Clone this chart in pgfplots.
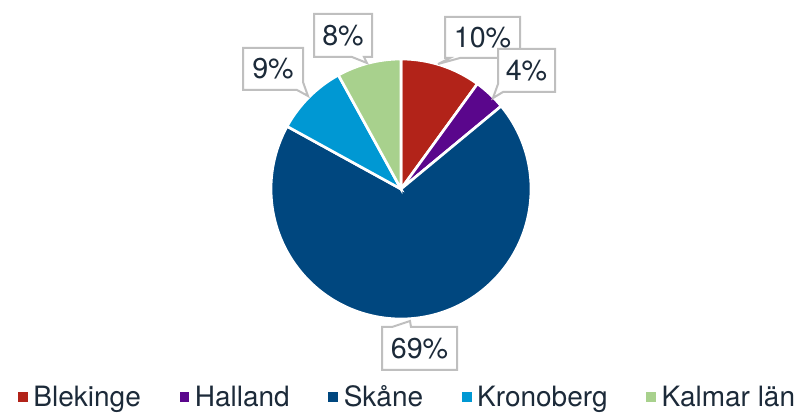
\documentclass[border=0pt]{standalone}
\usepackage{pgfplots}
\pgfplotsset{compat=1.18}
\usepackage{fontspec}
\setmainfont{TeX Gyre Heros}

\definecolor{cBlek}{HTML}{B22319}
\definecolor{cHall}{HTML}{5A068C}
\definecolor{cSkane}{HTML}{00477F}
\definecolor{cKron}{HTML}{0098D3}
\definecolor{cKalm}{HTML}{A8D18D}
\definecolor{txt}{HTML}{1C2A39}
\definecolor{boxgray}{HTML}{BFBFBF}

% slice: start (percent), share (percent), colour
\newcommand{\slice}[3]{%
  \fill[#3, draw=white, line width=2bp] (axis cs:401,226)
    -- ++({90-3.6*#1}:97.5bp)
    arc[start angle={90-3.6*#1}, end angle={90-3.6*(#1+#2)}, radius=97.5bp]
    -- cycle;}

\begin{document}
\begin{tikzpicture}
\useasboundingbox (0,0) rectangle (603.75bp,311.25bp);
\begin{axis}[
    x=0.75bp, y=0.75bp,
    xmin=0, xmax=805, ymin=0, ymax=415,
    hide axis,
    clip=false,
    legend columns=-1,
    legend style={
        at={(axis cs:408,1)}, anchor=south,
        draw=none, fill=none,
        font=\fontsize{21bp}{24bp}\selectfont,
        text=txt,
        /tikz/every even column/.append style={column sep=27bp},
        nodes={inner sep=2bp},
    },
    legend image code/.code={\path[draw=none, fill=none] (0bp,0bp) -- (9.5bp,0bp);
        \fill[#1, draw=none] (0bp,-3.7bp) rectangle (7.4bp,3.7bp);},
]
\slice{0}{10}{cBlek}
\slice{10}{4}{cHall}
\slice{14}{69}{cSkane}
\slice{83}{9}{cKron}
\slice{92}{8}{cKalm}

% callouts
\begin{scope}[draw=boxgray, fill=white, line width=1.5bp, line join=miter]
\filldraw (axis cs:445,398) -- (axis cs:520,398) -- (axis cs:520,357) -- (axis cs:460,357)
  -- (axis cs:438,351) -- (axis cs:450,357) -- (axis cs:445,357) -- cycle;
\filldraw (axis cs:498,366) -- (axis cs:555,366) -- (axis cs:555,323) -- (axis cs:503,323)
  -- (axis cs:493,317) -- (axis cs:498,331) -- cycle;
\filldraw (axis cs:243,367) -- (axis cs:303,367) -- (axis cs:303,333) -- (axis cs:308,319)
  -- (axis cs:297,325) -- (axis cs:243,325) -- cycle;
\filldraw (axis cs:314,401) -- (axis cs:372,401) -- (axis cs:372,358) -- (axis cs:364,358)
  -- (axis cs:367,352) -- (axis cs:352,358) -- (axis cs:314,358) -- cycle;
\filldraw (axis cs:382,88) -- (axis cs:392,88) -- (axis cs:410,94) -- (axis cs:411,88)
  -- (axis cs:457,88) -- (axis cs:457,45) -- (axis cs:382,45) -- cycle;
\end{scope}
\begin{scope}[every node/.style={text=txt, font=\fontsize{21.5bp}{24bp}\selectfont, inner sep=0pt}]
\node at (axis cs:482.5,377.5) {10\%};
\node at (axis cs:526.5,344.5) {4\%};
\node at (axis cs:273,346) {9\%};
\node at (axis cs:343,379.5) {8\%};
\node at (axis cs:419.5,66.5) {69\%};
\end{scope}

\addlegendimage{cBlek}\addlegendentry{Blekinge}
\addlegendimage{cHall}\addlegendentry{Halland}
\addlegendimage{cSkane}\addlegendentry{Skåne}
\addlegendimage{cKron}\addlegendentry{Kronoberg}
\addlegendimage{cKalm}\addlegendentry{Kalmar län}
\end{axis}
\end{tikzpicture}
\end{document}
